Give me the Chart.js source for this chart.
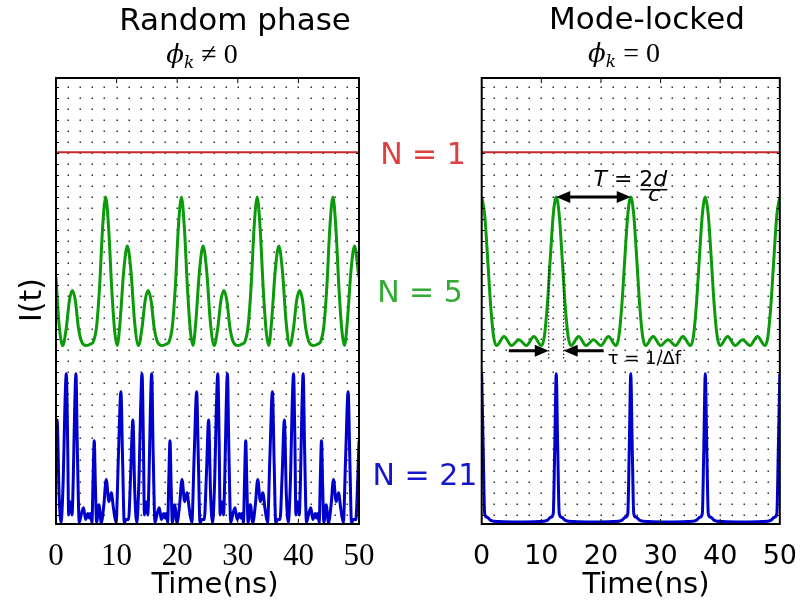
<!DOCTYPE html>
<html>
<head>
<meta charset="utf-8">
<script src="https://cdn.jsdelivr.net/npm/chart.js@4.4.1/dist/chart.umd.min.js"></script>
<style>
  body { margin: 0; background: #fff; }
  #page { position: relative; width: 806px; height: 608px; overflow: hidden; }
  canvas { position: absolute; top: 0; }
  #randomChart { left: 0; }
  #lockedChart { left: 420px; }
  svg { position: absolute; left: 0; top: 0; pointer-events: none; }
</style>
</head>
<body>
<div id="page">
  <canvas id="randomChart" width="420" height="608"></canvas>
  <canvas id="lockedChart" width="386" height="608"></canvas>
  <svg width="806" height="608" font-family="DejaVu Sans">
    <text x="235" y="30" font-size="31" text-anchor="middle">Random phase</text>
    <text x="647" y="29" font-size="31" text-anchor="middle">Mode-locked</text>
    <text x="202" y="63" font-size="26" text-anchor="middle" font-family="DejaVu Serif"><tspan font-style="italic">ϕ</tspan><tspan font-style="italic" font-size="17" dy="5">k</tspan><tspan dy="-5" font-family="Liberation Serif" font-size="28"> ≠ 0</tspan></text>
    <text x="624" y="62" font-size="26" text-anchor="middle" font-family="DejaVu Serif"><tspan font-style="italic">ϕ</tspan><tspan font-style="italic" font-size="17" dy="5">k</tspan><tspan dy="-5" font-family="Liberation Serif" font-size="28"> = 0</tspan></text>
    <text x="215" y="593" font-size="29" text-anchor="middle">Time(ns)</text>
    <text x="646" y="593" font-size="29" text-anchor="middle">Time(ns)</text>
    <text transform="translate(41,300) rotate(-90)" font-size="30" text-anchor="middle">I(t)</text>
    <text x="423" y="164" font-size="30" text-anchor="middle" fill="#dd4040">N = 1</text>
    <text x="420" y="302" font-size="30" text-anchor="middle" fill="#33aa33">N = 5</text>
    <text x="425" y="485" font-size="30" text-anchor="middle" fill="#1515cc">N = 21</text>
  </svg>
</div>
<script>
// N = 1 : one mode, flat intensity
const singleTime  = [0, 50];
const singleLevel = [1, 1];

// N = 5, random phases (normalised to the 5-mode peak)
const randomN5Time = [
  0, 0.47, 1.1, 1.7, 2.2, 2.7, 3.2, 3.7, 4.3, 5.0, 5.7,
  6.2, 6.7, 7.2, 7.7, 8.2, 8.7, 9.2, 9.7, 10.1, 10.57, 11.17, 11.77, 12.37, 12.97,
  13.6, 14.2, 14.7, 15.2, 15.7, 16.2, 16.8, 17.5, 18.2,
  18.7, 19.2, 19.7, 20.2, 20.7, 21.2, 21.7, 22.2, 22.6, 23.07, 23.67, 24.27, 24.87, 25.47,
  26.1, 26.7, 27.2, 27.7, 28.2, 28.7, 29.3, 30.0, 30.7,
  31.2, 31.7, 32.2, 32.7, 33.2, 33.7, 34.2, 34.7, 35.1, 35.57, 36.17, 36.77, 37.37, 37.97,
  38.6, 39.2, 39.7, 40.2, 40.7, 41.2, 41.8, 42.5, 43.2,
  43.7, 44.2, 44.7, 45.2, 45.7, 46.2, 46.7, 47.2, 47.6, 48.07, 48.67, 49.27, 49.87, 50
];
const randomN5Level = [
  0.46, 0.16, 0, 0.12, 0.30, 0.37, 0.30, 0.12, 0.02, 0, 0.01,
  0.03, 0.13, 0.40, 0.80, 1.0, 0.78, 0.38, 0.09, 0, 0.16, 0.50, 0.67, 0.50, 0.16,
  0, 0.12, 0.30, 0.37, 0.30, 0.12, 0.02, 0, 0.01,
  0.03, 0.13, 0.40, 0.80, 1.0, 0.78, 0.38, 0.09, 0, 0.16, 0.50, 0.67, 0.50, 0.16,
  0, 0.12, 0.30, 0.37, 0.30, 0.12, 0.02, 0, 0.01,
  0.03, 0.13, 0.40, 0.80, 1.0, 0.78, 0.38, 0.09, 0, 0.16, 0.50, 0.67, 0.50, 0.16,
  0, 0.12, 0.30, 0.37, 0.30, 0.12, 0.02, 0, 0.01,
  0.03, 0.13, 0.40, 0.80, 1.0, 0.78, 0.38, 0.09, 0, 0.16, 0.50, 0.67, 0.50, 0.46
];

// N = 21, random phases
const randomN21Time = [
  0, 0.19, 0.5, 0.82, 1.2, 1.45, 1.7, 1.92, 2.09, 2.36, 2.64, 2.85, 3.07, 3.29, 3.52, 3.84,
  4.2, 4.55, 4.88, 5.27, 5.49, 5.7, 5.93, 6.12, 6.31, 6.5, 6.7, 7.08, 7.47, 7.9, 8.29,
  8.73, 9.12, 9.5, 9.91, 10.3, 10.71, 11.0, 11.26, 11.6, 11.97, 12.3,
  12.69, 13.0, 13.32, 13.7, 13.95, 14.2, 14.42, 14.59, 14.86, 15.14, 15.35, 15.57, 15.79, 16.02, 16.34,
  16.7, 17.05, 17.38, 17.77, 17.99, 18.2, 18.43, 18.62, 18.81, 19.0, 19.2, 19.58, 19.97, 20.4, 20.79,
  21.23, 21.62, 22.0, 22.41, 22.8, 23.21, 23.5, 23.76, 24.1, 24.47, 24.8,
  25.19, 25.5, 25.82, 26.2, 26.45, 26.7, 26.92, 27.09, 27.36, 27.64, 27.85, 28.07, 28.29, 28.52, 28.84,
  29.2, 29.55, 29.88, 30.27, 30.49, 30.7, 30.93, 31.12, 31.31, 31.5, 31.7, 32.08, 32.47, 32.9, 33.29,
  33.73, 34.12, 34.5, 34.91, 35.3, 35.71, 36.0, 36.26, 36.6, 36.97, 37.3,
  37.69, 38.0, 38.32, 38.7, 38.95, 39.2, 39.42, 39.59, 39.86, 40.14, 40.35, 40.57, 40.79, 41.02, 41.34,
  41.7, 42.05, 42.38, 42.77, 42.99, 43.2, 43.43, 43.62, 43.81, 44.0, 44.2, 44.58, 44.97, 45.4, 45.79,
  46.23, 46.62, 47.0, 47.41, 47.8, 48.21, 48.5, 48.76, 49.1, 49.47, 49.8, 50
];
const randomN21Level = [
  0.6, 0.69, 0.2, 0, 0.3, 0.75, 1.0, 0.55, 0.05, 0.14, 0.05, 0.3, 0.75, 1.0, 0.5, 0,
  0.06, 0.1, 0.02, 0.06, 0.03, 0.06, 0, 0.3, 0.55, 0.25, 0, 0.12, 0, 0.12, 0.29,
  0.14, 0.2, 0.09, 0, 0.45, 0.88, 0.4, 0, 0.02, 0.02, 0.3,
  0.69, 0.2, 0, 0.3, 0.75, 1.0, 0.55, 0.05, 0.14, 0.05, 0.3, 0.75, 1.0, 0.5, 0,
  0.06, 0.1, 0.02, 0.06, 0.03, 0.06, 0, 0.3, 0.55, 0.25, 0, 0.12, 0, 0.12, 0.29,
  0.14, 0.2, 0.09, 0, 0.45, 0.88, 0.4, 0, 0.02, 0.02, 0.3,
  0.69, 0.2, 0, 0.3, 0.75, 1.0, 0.55, 0.05, 0.14, 0.05, 0.3, 0.75, 1.0, 0.5, 0,
  0.06, 0.1, 0.02, 0.06, 0.03, 0.06, 0, 0.3, 0.55, 0.25, 0, 0.12, 0, 0.12, 0.29,
  0.14, 0.2, 0.09, 0, 0.45, 0.88, 0.4, 0, 0.02, 0.02, 0.3,
  0.69, 0.2, 0, 0.3, 0.75, 1.0, 0.55, 0.05, 0.14, 0.05, 0.3, 0.75, 1.0, 0.5, 0,
  0.06, 0.1, 0.02, 0.06, 0.03, 0.06, 0, 0.3, 0.55, 0.25, 0, 0.12, 0, 0.12, 0.29,
  0.14, 0.2, 0.09, 0, 0.45, 0.88, 0.4, 0, 0.02, 0.02, 0.3, 0.55
];

// N = 5, locked phases
const lockedN5Time = [
  0, 0.5, 1.0, 1.5, 2.0, 2.5, 3.75, 5.0, 6.25, 7.5, 8.75, 10.0, 10.5, 11.0, 11.5, 12.0,
  12.5, 13.0, 13.5, 14.0, 14.5, 15.0, 16.25, 17.5, 18.75, 20.0, 21.25, 22.5, 23.0, 23.5, 24.0, 24.5,
  25.0, 25.5, 26.0, 26.5, 27.0, 27.5, 28.75, 30.0, 31.25, 32.5, 33.75, 35.0, 35.5, 36.0, 36.5, 37.0,
  37.5, 38.0, 38.5, 39.0, 39.5, 40.0, 41.25, 42.5, 43.75, 45.0, 46.25, 47.5, 48.0, 48.5, 49.0, 49.5, 50
];
const lockedN5Level = [
  1.0, 0.88, 0.585, 0.27, 0.06, 0, 0.061, 0, 0.04, 0, 0.061, 0, 0.06, 0.27, 0.585, 0.88,
  1.0, 0.88, 0.585, 0.27, 0.06, 0, 0.061, 0, 0.04, 0, 0.061, 0, 0.06, 0.27, 0.585, 0.88,
  1.0, 0.88, 0.585, 0.27, 0.06, 0, 0.061, 0, 0.04, 0, 0.061, 0, 0.06, 0.27, 0.585, 0.88,
  1.0, 0.88, 0.585, 0.27, 0.06, 0, 0.061, 0, 0.04, 0, 0.061, 0, 0.06, 0.27, 0.585, 0.88, 1.0
];

// N = 21, locked phases
const lockedN21Time = [
  0, 0.25, 0.5, 0.9, 1.5, 3.0, 6.25, 9.5, 11.0, 11.6, 12.0, 12.25,
  12.5, 12.75, 13.0, 13.4, 14.0, 15.5, 18.75, 22.0, 23.5, 24.1, 24.5, 24.75,
  25.0, 25.25, 25.5, 25.9, 26.5, 28.0, 31.25, 34.5, 36.0, 36.6, 37.0, 37.25,
  37.5, 37.75, 38.0, 38.4, 39.0, 40.5, 43.75, 47.0, 48.5, 49.1, 49.5, 49.75, 50
];
const lockedN21Level = [
  1.0, 0.5, 0.06, 0.035, 0.015, 0.006, 0.003, 0.006, 0.015, 0.035, 0.06, 0.5,
  1.0, 0.5, 0.06, 0.035, 0.015, 0.006, 0.003, 0.006, 0.015, 0.035, 0.06, 0.5,
  1.0, 0.5, 0.06, 0.035, 0.015, 0.006, 0.003, 0.006, 0.015, 0.035, 0.06, 0.5,
  1.0, 0.5, 0.06, 0.035, 0.015, 0.006, 0.003, 0.006, 0.015, 0.035, 0.06, 0.5, 1.0
];

// vertical stacking of the three traces
const shiftN1 = 1.5;
const shiftN5 = 1.2;
const shiftN21 = 0.01;

const roundTrip = 12.5;   // T = 2d/c in ns
const pulseWidth = 2.5;   // tau = 1/Δf in ns

// dotted background lattice
const dotColumns = 2;      // ns between dot columns
const dotRowFirst = 0.062;
const dotRowStep = 0.0737;

const toPoints = (times, levels, shift) => times.map((t, i) => ({ x: t, y: shift + levels[i] }));

const framePlugin = {
  id: 'frame',
  beforeDatasetsDraw(chart) {
    const { ctx, scales: { x, y } } = chart;
    ctx.save();
    ctx.fillStyle = '#333';
    for (let t = dotColumns; t < 50; t += dotColumns) {
      const px = Math.round(x.getPixelForValue(t));
      for (let v = dotRowFirst; v < 3; v += dotRowStep) {
        const py = Math.round(y.getPixelForValue(v));
        ctx.fillRect(px - 0.5, py - 0.5, 1.5, 1.5);
      }
    }
    ctx.restore();
  },
  afterDatasetsDraw(chart) {
    const { ctx, chartArea: a, scales: { x, y } } = chart;
    ctx.save();
    ctx.strokeStyle = '#000';
    ctx.lineWidth = 1;
    ctx.beginPath();
    for (let t = 10; t < 50; t += 10) {
      const px = x.getPixelForValue(t);
      ctx.moveTo(px, a.top); ctx.lineTo(px, a.top + 5);
      ctx.moveTo(px, a.bottom); ctx.lineTo(px, a.bottom - 5);
    }
    for (let v = dotRowFirst; v < 3; v += dotRowStep) {
      const py = Math.round(y.getPixelForValue(v)) + 0.5;
      ctx.moveTo(a.left, py); ctx.lineTo(a.left + 3, py);
      ctx.moveTo(a.right, py); ctx.lineTo(a.right - 3, py);
    }
    ctx.stroke();
    ctx.lineWidth = 2;
    ctx.strokeRect(a.left, a.top, a.right - a.left, a.bottom - a.top);
    ctx.restore();
  }
};

function arrowHead(ctx, tipX, tipY, dir) {
  ctx.beginPath();
  ctx.moveTo(tipX, tipY);
  ctx.lineTo(tipX - dir * 14, tipY - 6);
  ctx.lineTo(tipX - dir * 14, tipY + 6);
  ctx.closePath();
  ctx.fill();
}

// T arrow between two pulses and tau arrows around one pulse
const pulseNotes = {
  id: 'pulseNotes',
  afterDatasetsDraw(chart) {
    const { ctx, scales: { x, y } } = chart;
    ctx.save();
    ctx.fillStyle = '#000';
    ctx.strokeStyle = '#000';

    const yT = y.getPixelForValue(shiftN5 + 1);
    const xa = x.getPixelForValue(roundTrip);
    const xb = x.getPixelForValue(2 * roundTrip);
    ctx.lineWidth = 3;
    ctx.beginPath();
    ctx.moveTo(xa + 12, yT); ctx.lineTo(xb - 12, yT);
    ctx.stroke();
    arrowHead(ctx, xa, yT, -1);
    arrowHead(ctx, xb, yT, 1);

    let tx = (xa + xb) / 2;
    const base = yT - 11;
    ctx.textBaseline = 'alphabetic';
    ctx.font = 'italic 22px "DejaVu Sans"';
    ctx.fillText('T', tx, base);
    tx += ctx.measureText('T').width;
    ctx.font = '22px "DejaVu Sans"';
    ctx.fillText(' = ', tx, base);
    tx += ctx.measureText(' = ').width;
    const numStart = tx;
    ctx.fillText('2', tx, base);
    tx += ctx.measureText('2').width;
    ctx.font = 'italic 22px "DejaVu Sans"';
    ctx.fillText('d', tx, base);
    tx += ctx.measureText('d').width;
    ctx.fillRect(numStart + 1, base + 3, tx - numStart - 1, 1.5);
    ctx.textAlign = 'center';
    ctx.fillText('c', (numStart + tx) / 2 + 1, base + 15);
    ctx.textAlign = 'left';

    const yTau = y.getPixelForValue(shiftN5 - 0.035);
    const xl = x.getPixelForValue(roundTrip - pulseWidth / 2);
    const xr = x.getPixelForValue(roundTrip + pulseWidth / 2);
    ctx.lineWidth = 1;
    ctx.setLineDash([1.5, 2]);
    ctx.beginPath();
    const yTop = y.getPixelForValue(shiftN5 + 0.535);
    const yBot = y.getPixelForValue(shiftN5 - 0.1);
    ctx.moveTo(xl, yTop); ctx.lineTo(xl, yBot);
    ctx.moveTo(xr, yTop); ctx.lineTo(xr, yBot);
    ctx.stroke();
    ctx.setLineDash([]);

    const span = x.getPixelForValue(6.7) - x.getPixelForValue(0);
    ctx.lineWidth = 3;
    ctx.beginPath();
    ctx.moveTo(xl - span, yTau); ctx.lineTo(xl - 12, yTau);
    ctx.moveTo(xr + span, yTau); ctx.lineTo(xr + 12, yTau);
    ctx.stroke();
    arrowHead(ctx, xl, yTau, 1);
    arrowHead(ctx, xr, yTau, -1);

    ctx.font = '18px "DejaVu Sans"';
    ctx.fillText('τ = 1/Δf', xr + span + 4, yTau + 13);
    ctx.restore();
  }
};

function makePanel(id, datasets, pad, tickFont, tickPad, plugins) {
  return new Chart(document.getElementById(id), {
    type: 'line',
    data: { datasets },
    options: {
      responsive: false,
      animation: false,
      layout: { padding: pad },
      plugins: { legend: { display: false }, tooltip: { enabled: false } },
      elements: { point: { radius: 0 } },
      scales: {
        x: {
          type: 'linear', min: 0, max: 50,
          grid: { display: false },
          border: { display: false },
          ticks: { stepSize: 10, padding: tickPad, color: '#000', font: tickFont, maxRotation: 0 },
          afterFit: (s) => { s.height = 84; }
        },
        y: { display: false, min: 0, max: 3 }
      }
    },
    plugins
  });
}

function traces(n5Time, n5Level, n21Time, n21Level) {
  return [
    { data: toPoints(singleTime, singleLevel, shiftN1), borderColor: '#c4282a', borderWidth: 2 },
    { data: toPoints(n5Time, n5Level, shiftN5), borderColor: '#0a9a0a', borderWidth: 3, cubicInterpolationMode: 'monotone' },
    { data: toPoints(n21Time, n21Level, shiftN21), borderColor: '#0000cc', borderWidth: 3, cubicInterpolationMode: 'monotone' }
  ];
}

makePanel('randomChart',
  traces(randomN5Time, randomN5Level, randomN21Time, randomN21Level),
  { left: 56, right: 61, top: 78, bottom: 0 },
  { family: 'Liberation Serif', size: 31 },
  6,
  [framePlugin]);

makePanel('lockedChart',
  traces(lockedN5Time, lockedN5Level, lockedN21Time, lockedN21Level),
  { left: 61.7, right: 21.7, top: 78, bottom: 0 },
  { family: 'DejaVu Sans', size: 27 },
  9,
  [framePlugin, pulseNotes]);
</script>
</body>
</html>
